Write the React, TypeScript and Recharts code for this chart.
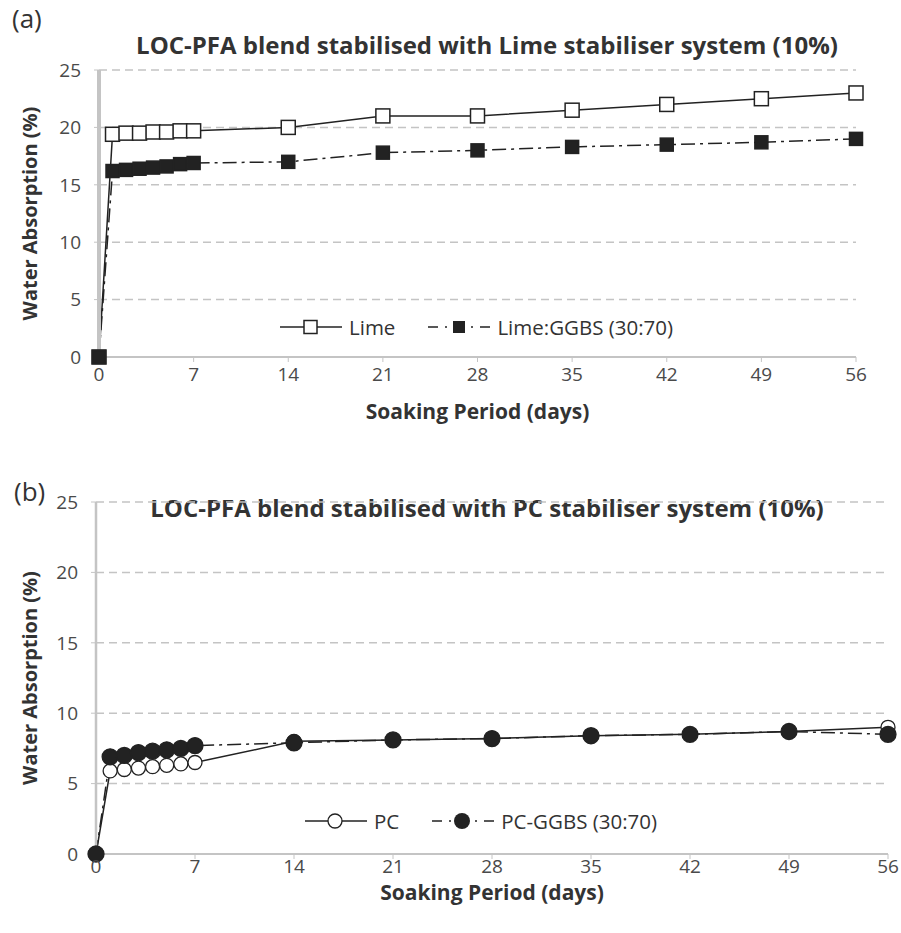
import React from "react";
import { LineChart, Line, XAxis, YAxis, CartesianGrid, Legend } from "recharts";

// soaking days and water absorption (%)
const DAYS = [0, 1, 2, 3, 4, 5, 6, 7, 14, 21, 28, 35, 42, 49, 56];
const LIME = [0, 19.4, 19.5, 19.5, 19.6, 19.6, 19.7, 19.7, 20.0, 21.0, 21.0, 21.5, 22.0, 22.5, 23.0];
const LIME_GGBS = [0, 16.2, 16.3, 16.4, 16.5, 16.6, 16.8, 16.9, 17.0, 17.8, 18.0, 18.3, 18.5, 18.7, 19.0];
const PC = [0, 5.9, 6.0, 6.1, 6.2, 6.3, 6.4, 6.5, 8.0, 8.1, 8.2, 8.4, 8.5, 8.7, 9.0];
const PC_GGBS = [0, 6.9, 7.0, 7.2, 7.3, 7.4, 7.5, 7.7, 7.9, 8.1, 8.2, 8.4, 8.5, 8.7, 8.5];

const X_TICKS = [0, 7, 14, 21, 28, 35, 42, 49, 56];
const Y_TICKS = [0, 5, 10, 15, 20, 25];

const FONT = "'Open Sans', sans-serif";
const INK = "#222";
const AXIS = "#c4c4c4";
const DASH_DOT = "14 5 3 5";

const dataA = DAYS.map((day, i) => ({ day, lime: LIME[i], limeGgbs: LIME_GGBS[i] }));
const dataB = DAYS.map((day, i) => ({ day, pc: PC[i], pcGgbs: PC_GGBS[i] }));

const squareDot = (filled: boolean) => (props: any) => {
  const s = filled ? 13 : 14;
  return (
    <rect
      key={`sq-${filled}-${props.index}`}
      x={props.cx - s / 2}
      y={props.cy - s / 2}
      width={s}
      height={s}
      fill={filled ? INK : "#fff"}
      stroke={INK}
      strokeWidth={1.5}
    />
  );
};

const circleDot = (filled: boolean) => (props: any) => (
  <circle
    key={`ci-${filled}-${props.index}`}
    cx={props.cx}
    cy={props.cy}
    r={filled ? 8 : 7}
    fill={filled ? INK : "#fff"}
    stroke={INK}
    strokeWidth={1.3}
  />
);

function LegendIcon({ dashed, marker }: { dashed: boolean; marker: React.ReactNode }) {
  return (
    <svg width={64} height={20} style={{ display: "block" }}>
      <line
        x1={1}
        x2={63}
        y1={10}
        y2={10}
        stroke={INK}
        strokeWidth={1.5}
        strokeDasharray={dashed ? "10 7 2 7" : undefined}
      />
      {marker}
    </svg>
  );
}

function makeLegend(items: { label: string; dashed: boolean; marker: React.ReactNode }[]) {
  return () => (
    <div style={{ display: "flex", alignItems: "center", fontFamily: FONT, fontSize: 20.5, color: "#333" }}>
      {items.map((it, i) => (
        <div key={i} style={{ display: "flex", alignItems: "center", marginRight: 32 }}>
          <LegendIcon dashed={it.dashed} marker={it.marker} />
          <span style={{ marginLeft: 6 }}>{it.label}</span>
        </div>
      ))}
    </div>
  );
}

const legendA = makeLegend([
  { label: "Lime", dashed: false, marker: <rect x={25} y={3.5} width={13} height={13} fill="#fff" stroke={INK} strokeWidth={1.5} /> },
  { label: "Lime:GGBS (30:70)", dashed: true, marker: <rect x={26} y={4} width={12} height={12} fill={INK} /> },
]);

const legendB = makeLegend([
  { label: "PC", dashed: false, marker: <circle cx={31} cy={10} r={7} fill="#fff" stroke={INK} strokeWidth={1.3} /> },
  { label: "PC-GGBS (30:70)", dashed: true, marker: <circle cx={31} cy={10} r={8} fill={INK} /> },
]);

const tickStyle = { fill: "#4a4a4a", fontSize: 19, fontFamily: FONT };
const xTitle = { fill: "#333", fontSize: 21, fontWeight: 700, fontFamily: FONT };
const yTitle = { fill: "#333", fontSize: 20, fontWeight: 700, fontFamily: FONT, textAnchor: "middle" as const };

const panelLabel: React.CSSProperties = {
  position: "absolute",
  fontFamily: FONT,
  fontSize: 26,
  color: "#333",
};
const chartTitle: React.CSSProperties = {
  position: "absolute",
  left: 0,
  width: 974,
  textAlign: "center",
  fontFamily: FONT,
  fontSize: 24,
  fontWeight: 700,
  color: "#333",
  whiteSpace: "nowrap",
  lineHeight: "30px",
};

export default function App() {
  return (
    <div style={{ position: "absolute", left: 0, top: 0, width: 901, height: 933, background: "#fff", overflow: "hidden" }}>
      <div style={{ ...panelLabel, left: 12, top: 0 }}>(a)</div>
      <div style={{ ...chartTitle, top: 30 }}>LOC-PFA blend stabilised with Lime stabiliser system (10%)</div>
      <div style={{ position: "absolute", left: 0, top: 0 }}>
        <LineChart width={901} height={430} data={dataA} margin={{ top: 70, right: 45, left: 39, bottom: 23 }}>
          <CartesianGrid horizontal vertical={false} stroke={AXIS} strokeWidth={1.5} strokeDasharray="8 5" />
          <XAxis
            dataKey="day"
            type="number"
            domain={[0, 56]}
            ticks={X_TICKS}
            height={50}
            tick={tickStyle}
            tickSize={5}
            tickMargin={6}
            axisLine={{ stroke: AXIS, strokeWidth: 2 }}
            tickLine={{ stroke: AXIS }}
            label={{ value: "Soaking Period (days)", position: "insideBottom", offset: -12, style: xTitle }}
          />
          <YAxis
            type="number"
            domain={[0, 25]}
            ticks={Y_TICKS}
            width={60}
            tick={tickStyle}
            tickSize={5}
            tickMargin={13}
            axisLine={{ stroke: AXIS, strokeWidth: 4 }}
            tickLine={{ stroke: AXIS }}
            label={{ value: "Water Absorption (%)", angle: -90, position: "insideLeft", offset: -9, style: yTitle }}
          />
          <Legend
            layout="horizontal"
            verticalAlign="middle"
            content={legendA}
            wrapperStyle={{ left: 279, top: 313, width: "auto" }}
          />
          <Line dataKey="lime" stroke={INK} strokeWidth={1.5} dot={squareDot(false)} isAnimationActive={false} />
          <Line
            dataKey="limeGgbs"
            stroke={INK}
            strokeWidth={1.5}
            strokeDasharray={DASH_DOT}
            dot={squareDot(true)}
            isAnimationActive={false}
          />
        </LineChart>
      </div>

      <div style={{ ...panelLabel, left: 14, top: 473 }}>(b)</div>
      <div style={{ ...chartTitle, top: 493 }}>LOC-PFA blend stabilised with PC stabiliser system (10%)</div>
      <div style={{ position: "absolute", left: 0, top: 460 }}>
        <LineChart width={901} height={473} data={dataB} margin={{ top: 42, right: 13, left: 36, bottom: 29 }}>
          <CartesianGrid horizontal vertical={false} stroke={AXIS} strokeWidth={1.5} strokeDasharray="8 5" />
          <XAxis
            dataKey="day"
            type="number"
            domain={[0, 56]}
            ticks={X_TICKS}
            height={50}
            tick={tickStyle}
            tickSize={5}
            tickMargin={1}
            axisLine={{ stroke: AXIS, strokeWidth: 2 }}
            tickLine={{ stroke: AXIS }}
            label={{ value: "Soaking Period (days)", position: "insideBottom", offset: 4, style: xTitle }}
          />
          <YAxis
            type="number"
            domain={[0, 25]}
            ticks={Y_TICKS}
            width={60}
            tick={tickStyle}
            tickSize={5}
            tickMargin={13}
            axisLine={{ stroke: AXIS, strokeWidth: 2.5 }}
            tickLine={{ stroke: AXIS }}
            label={{ value: "Water Absorption (%)", angle: -90, position: "insideLeft", offset: -6, style: yTitle }}
          />
          <Legend
            layout="horizontal"
            verticalAlign="middle"
            content={legendB}
            wrapperStyle={{ left: 304, top: 347, width: "auto" }}
          />
          <Line dataKey="pc" stroke={INK} strokeWidth={1.5} dot={circleDot(false)} isAnimationActive={false} />
          <Line
            dataKey="pcGgbs"
            stroke={INK}
            strokeWidth={1.5}
            strokeDasharray={DASH_DOT}
            dot={circleDot(true)}
            isAnimationActive={false}
          />
        </LineChart>
      </div>
    </div>
  );
}
